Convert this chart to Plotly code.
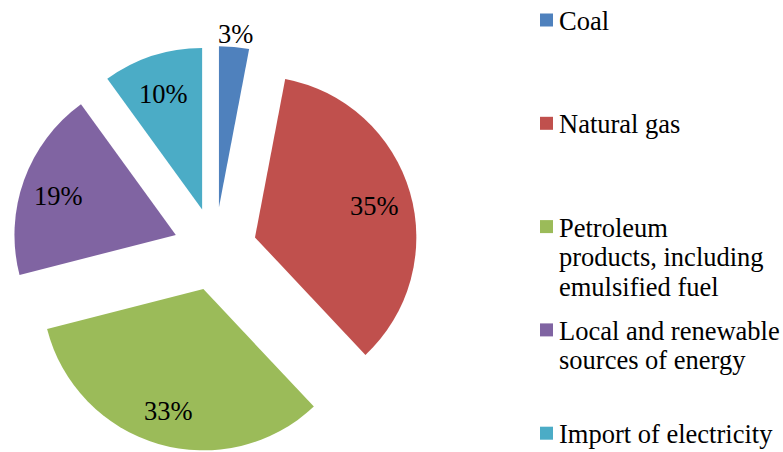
import numpy as np
import plotly.graph_objects as go

# ---- data ----
categories = [
    "Coal",
    "Natural gas",
    "Petroleum products, including emulsified fuel",
    "Local and renewable sources of energy",
    "Import of electricity",
]
legend_labels = [
    "Coal",
    "Natural gas",
    "Petroleum<br>products, including<br>emulsified fuel",
    "Local and renewable<br>sources of energy",
    "Import of electricity",
]
shares = [3, 35, 33, 19, 10]
colors = ["#4F81BD", "#C0504D", "#9BBB59", "#8064A2", "#4BACC6"]

# ---- layout constants ----
W, H = 783, 452
PULL = 0.258
DOM_X = [0.0, 430 / W]
DOM_Y = [0.0, 406 / H]
FONT = "Liberation Serif"
FS = 26.5

fig = go.Figure(
    go.Pie(
        labels=categories,
        values=shares,
        sort=False,
        direction="clockwise",
        rotation=0,
        pull=[PULL] * len(shares),
        marker=dict(colors=colors, line=dict(width=0)),
        textinfo="none",
        hoverinfo="label+percent",
        showlegend=False,
        domain=dict(x=DOM_X, y=DOM_Y),
    )
)

# pie geometry as plotly computes it (margins are zero)
cx = W * (DOM_X[0] + DOM_X[1]) / 2
cy = H - H * (DOM_Y[0] + DOM_Y[1]) / 2
R = min(W * (DOM_X[1] - DOM_X[0]), H * (DOM_Y[1] - DOM_Y[0])) / 2 / (1 + PULL)

total = float(sum(shares))
cum = np.cumsum(shares)
annotations = []
for i, v in enumerate(shares):
    mid = np.deg2rad((cum[i] - v / 2) / total * 360)
    frac = 1.1 if v / total < 0.05 else 0.77
    dist = PULL * R + frac * R
    px = cx + dist * np.sin(mid)
    py = cy - dist * np.cos(mid) + 3
    annotations.append(dict(
        x=px / W, y=1 - py / H, xref="paper", yref="paper",
        text=f"{round(v / total * 100)}%", showarrow=False,
        xanchor="center", yanchor="middle",
        font=dict(family=FONT, size=FS, color="black"),
    ))

# legend drawn manually to reproduce the wide spacing
shapes = []
LEG_SQ_X0, LEG_SQ_X1, LEG_TXT_X = 540, 553, 557
LEG_Y0, LEG_STEP, LINE_STEP = 20, 103.3, 29.5
SQ = 13
for i, lab in enumerate(legend_labels):
    yc = LEG_Y0 + LEG_STEP * i
    shapes.append(dict(
        type="rect", xref="paper", yref="paper",
        x0=LEG_SQ_X0 / W, x1=LEG_SQ_X1 / W,
        y0=1 - (yc + SQ / 2) / H, y1=1 - (yc - SQ / 2) / H,
        fillcolor=colors[i], line=dict(width=0),
    ))
    for j, line in enumerate(lab.split("<br>")):
        ly = yc + 1 + LINE_STEP * j
        annotations.append(dict(
            x=LEG_TXT_X / W, y=1 - ly / H, xref="paper", yref="paper",
            text=line, showarrow=False, xanchor="left", yanchor="middle",
            font=dict(family=FONT, size=FS, color="black"),
        ))

fig.update_layout(
    width=W, height=H,
    margin=dict(l=0, r=0, t=0, b=0),
    paper_bgcolor="white", plot_bgcolor="white",
    font=dict(family=FONT),
    annotations=annotations, shapes=shapes,
)

fig.write_html(
    "out.html",
    config={"displayModeBar": False},
    post_script="document.body.style.margin='0';document.body.style.overflow='hidden';",
)
